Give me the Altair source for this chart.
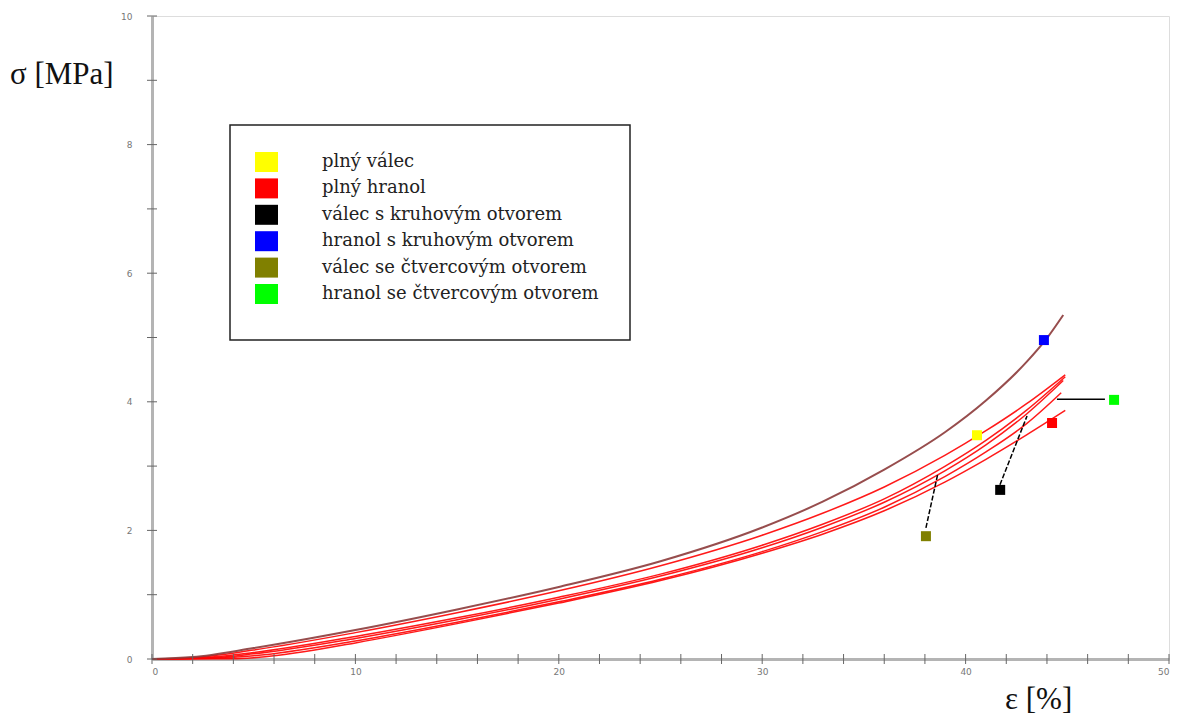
import altair as alt
import pandas as pd

# ---- curve data (strain eps [%], stress sigma [MPa]) ----
eps_c1 = [0, 2, 5, 10, 15, 20, 25, 30, 33, 36, 39, 41, 43, 44, 44.8]
sig_c1 = [0, 0.03, 0.17, 0.45, 0.77, 1.12, 1.52, 2.045, 2.45, 2.945, 3.53, 4.02, 4.62, 4.99, 5.35]

eps_c2 = [0, 2, 5, 10, 15, 20, 25, 30, 33, 36, 39, 41, 43, 44.9]
sig_c2 = [0, 0.02, 0.14, 0.41, 0.72, 1.06, 1.45, 1.925, 2.27, 2.675, 3.17, 3.55, 3.97, 4.42]

eps_c3 = [0, 2, 5, 10, 15, 20, 25, 30, 33, 36, 39, 41, 43, 44.9]
sig_c3 = [0, 0.01, 0.10, 0.35, 0.64, 0.96, 1.32, 1.77, 2.10, 2.49, 3.0, 3.4, 3.87, 4.39]

eps_c4 = [0, 3, 5, 10, 15, 20, 25, 30, 33, 36, 39, 41, 43, 44.8]
sig_c4 = [0, 0.02, 0.08, 0.32, 0.61, 0.93, 1.29, 1.73, 2.054, 2.438, 2.93, 3.33, 3.81, 4.33]

eps_c5 = [0, 3, 5, 10, 15, 20, 25, 30, 33, 36, 39, 41, 43, 44.7]
sig_c5 = [0, 0.01, 0.05, 0.28, 0.57, 0.89, 1.24, 1.67, 1.985, 2.36, 2.84, 3.22, 3.66, 4.14]

eps_c6 = [0, 4, 5, 8, 10, 15, 20, 25, 30, 33, 36, 39, 41, 43, 44.9]
sig_c6 = [0, 0.005, 0.02, 0.14, 0.25, 0.55, 0.87, 1.22, 1.645, 1.945, 2.305, 2.755, 3.105, 3.485, 3.865]

# ---- legend ----
legend_labels = ["plný válec", "plný hranol", "válec s kruhovým otvorem",
                 "hranol s kruhovým otvorem", "válec se čtvercovým otvorem",
                 "hranol se čtvercovým otvorem"]
legend_colors = ["#ffff00", "#ff0000", "#000000", "#0000ff", "#808000", "#00ff00"]

# ---- marker squares on the plot (eps, sigma) ----
marker_eps = [40.56, 44.25, 41.7, 43.85, 38.05, 47.3]
marker_sig = [3.48, 3.67, 2.63, 4.96, 1.91, 4.03]
marker_colors = ["#ffff00", "#ff0000", "#000000", "#0000ff", "#808000", "#00ff00"]

# ---- leader lines (eps1, sig1, eps2, sig2) ----
lead_eps1 = [41.69, 38.05, 44.49]
lead_sig1 = [2.71, 2.04, 4.04]
lead_eps2 = [43.02, 38.64, 46.85]
lead_sig2 = [3.78, 2.89, 4.04]
lead_dash = [[5, 2], [5, 2], [1, 0]]

# ---- axis ticks ----
x_ticks = list(range(0, 51, 2))
y_ticks = list(range(0, 11, 1))
x_labels = [0, 10, 20, 30, 40, 50]
y_labels = [0, 2, 4, 6, 8, 10]

W, H = 1017, 643
xs = alt.Scale(domain=[0, 50], nice=False, zero=False)
ys = alt.Scale(domain=[0, 10], nice=False, zero=False)

axes_base = pd.DataFrame({"e": [0], "s": [0]})
axes = alt.Chart(axes_base).mark_point(opacity=0).encode(
    x=alt.X("e:Q", scale=xs, axis=alt.Axis(values=x_labels, title=None, grid=False, format="d",
                                           domainColor="#b4b4b4", domainWidth=3,
                                           ticks=False, labelFontSize=9, labelColor="#777777",
                                           labelPadding=8, labelFont="DejaVu Sans")),
    y=alt.Y("s:Q", scale=ys, axis=alt.Axis(values=y_labels, title=None, grid=False, format="d",
                                           domainColor="#b4b4b4", domainWidth=3,
                                           ticks=False, labelFontSize=9, labelColor="#777777",
                                           labelPadding=20, labelFont="DejaVu Sans")),
)

xt = pd.DataFrame({"v": x_ticks})
yt = pd.DataFrame({"v": y_ticks})
xtick_rules = alt.Chart(xt).mark_rule(color="#666666", strokeWidth=1).encode(
    x=alt.X("v:Q", scale=xs), y=alt.value(H - 5), y2=alt.value(H + 5))
ytick_rules = alt.Chart(yt).mark_rule(color="#666666", strokeWidth=1).encode(
    y=alt.Y("v:Q", scale=ys), x=alt.value(-5), x2=alt.value(5))

curves = [(eps_c2, sig_c2, "#ff0000", 1.5), (eps_c3, sig_c3, "#ff0000", 1.5),
          (eps_c4, sig_c4, "#ff0000", 1.5), (eps_c5, sig_c5, "#ff0000", 1.5),
          (eps_c6, sig_c6, "#ff0000", 1.5), (eps_c1, sig_c1, "#8c3a3a", 2.0)]
curve_layers = []
for e, s, c, w in curves:
    df = pd.DataFrame({"e": e, "s": s})
    curve_layers.append(
        alt.Chart(df).mark_line(color=c, strokeWidth=w, interpolate="monotone", opacity=0.9).encode(
            x=alt.X("e:Q", scale=xs), y=alt.Y("s:Q", scale=ys), order="e:Q"))

lead_layers = []
for e1, s1, e2, s2, d in zip(lead_eps1, lead_sig1, lead_eps2, lead_sig2, lead_dash):
    df = pd.DataFrame({"e": [e1], "s": [s1], "e2": [e2], "s2": [s2]})
    lead_layers.append(alt.Chart(df).mark_rule(color="#000000", strokeWidth=1.5, strokeDash=d).encode(
        x=alt.X("e:Q", scale=xs), y=alt.Y("s:Q", scale=ys), x2="e2:Q", y2="s2:Q"))

mk = pd.DataFrame({"e": marker_eps, "s": marker_sig, "c": marker_colors})
markers = alt.Chart(mk).mark_square(size=100, opacity=1).encode(
    x=alt.X("e:Q", scale=xs), y=alt.Y("s:Q", scale=ys),
    color=alt.Color("c:N", scale=None), fill=alt.Fill("c:N", scale=None))

legend_box = alt.Chart(axes_base).mark_rect(fill="white", stroke="#222222", strokeWidth=1.5).encode(
    x=alt.value(78), x2=alt.value(478), y=alt.value(109), y2=alt.value(324))

leg = pd.DataFrame({"lab": legend_labels, "c": legend_colors, "i": list(range(len(legend_labels)))})
leg["py"] = 146 + leg["i"] * 26.4
leg["sy1"] = leg["py"] - 10
leg["sy2"] = leg["py"] + 10
legend_sq = alt.Chart(leg).mark_rect().encode(
    x=alt.value(103), x2=alt.value(126),
    y=alt.Y("sy1:Q", scale=None), y2="sy2:Q",
    fill=alt.Fill("c:N", scale=None))
legend_txt = alt.Chart(leg).mark_text(align="left", baseline="middle", font="DejaVu Serif",
                                      fontSize=18, color="#222222").encode(
    x=alt.value(170), y=alt.Y("py:Q", scale=None), text="lab:N")

ytitle = alt.Chart(axes_base).mark_text(text="σ [MPa]", font="Liberation Serif", fontSize=31,
                                        color="#111111", align="left", baseline="middle").encode(
    x=alt.value(-142), y=alt.value(59))
xtitle = alt.Chart(axes_base).mark_text(text="ε [%]", font="Liberation Serif", fontSize=31,
                                        color="#111111", align="left", baseline="middle").encode(
    x=alt.value(853), y=alt.value(684))

chart = alt.layer(
    axes, *curve_layers, *lead_layers, markers, legend_box, legend_sq, legend_txt,
    ytitle, xtitle, xtick_rules, ytick_rules
).properties(
    width=W, height=H,
    padding={"left": 144, "top": 8, "right": 4, "bottom": 56},
    autosize=alt.AutoSizeParams(type="none"),
).configure_view(stroke=None).configure(background="white")

chart.save("out.html", embed_options={"renderer": "svg", "actions": False})
